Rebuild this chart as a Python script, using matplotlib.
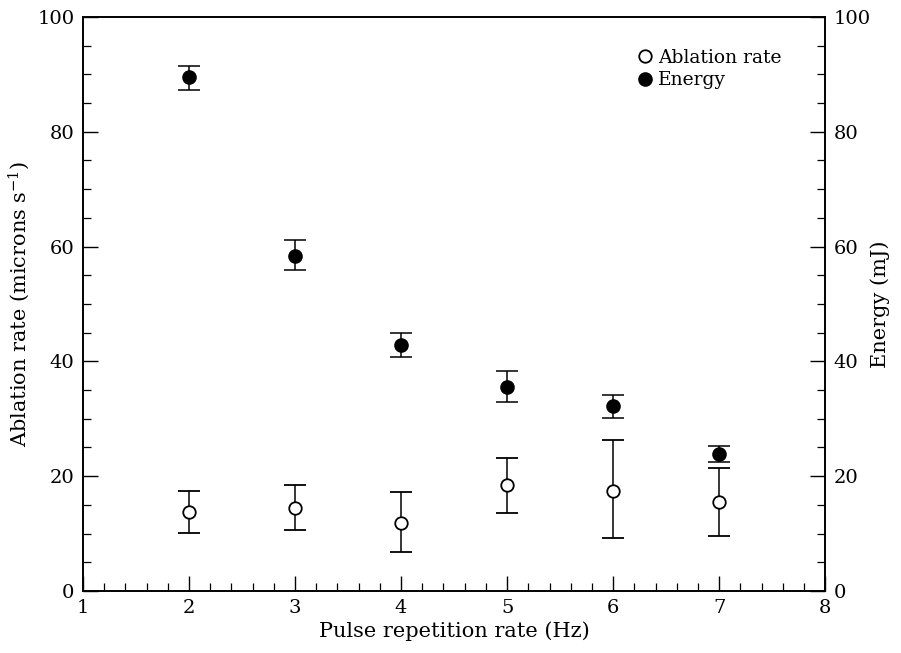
import matplotlib
matplotlib.use("Agg")
import matplotlib.pyplot as plt
from matplotlib.ticker import MultipleLocator
from matplotlib.lines import Line2D

plt.rcParams['font.family'] = ['DejaVu Serif']
plt.rcParams['mathtext.fontset'] = 'dejavuserif'

rate_hz = [2, 3, 4, 5, 6, 7]
ablation = [13.8, 14.4, 11.8, 18.4, 17.4, 15.5]
ablation_lo = [10.1, 10.7, 6.8, 13.5, 9.3, 9.6]
ablation_hi = [17.5, 18.4, 17.2, 23.1, 26.3, 21.4]
energy = [89.6, 58.3, 42.9, 35.5, 32.2, 23.9]
energy_lo = [87.2, 56.0, 40.7, 32.9, 30.1, 22.5]
energy_hi = [91.5, 61.1, 45.0, 38.3, 34.2, 25.3]

fig = plt.figure(figsize=(9.01, 6.53), dpi=100)
ax = fig.add_axes([0.092, 0.095, 0.824, 0.879])
ax2 = ax.twinx()

ab_err = [[a - l for a, l in zip(ablation, ablation_lo)],
          [h - a for a, h in zip(ablation, ablation_hi)]]
en_err = [[e - l for e, l in zip(energy, energy_lo)],
          [h - e for e, h in zip(energy, energy_hi)]]

ax.errorbar(rate_hz, ablation, yerr=ab_err, fmt='o', mfc='white', mec='black',
            mew=1.3, ms=9, ecolor='black', elinewidth=1.1, capsize=8, capthick=1.1,
            color='black', zorder=3)
ax2.errorbar(rate_hz, energy, yerr=en_err, fmt='o', mfc='black', mec='black',
             ms=9.5, ecolor='black', elinewidth=1.1, capsize=8, capthick=1.1,
             color='black', zorder=3)

for a in (ax, ax2):
    a.set_ylim(0, 100)
    a.yaxis.set_major_locator(MultipleLocator(20))
    a.yaxis.set_minor_locator(MultipleLocator(5))
    for s in a.spines.values():
        s.set_linewidth(1.2)
ax.set_xlim(1, 8)
ax.xaxis.set_major_locator(MultipleLocator(1))
ax.xaxis.set_minor_locator(MultipleLocator(0.2))

ax.tick_params(which='major', direction='in', length=11, width=1.0, labelsize=14, pad=6)
ax.tick_params(which='minor', direction='in', length=6, width=0.9)
ax.tick_params(axis='x', top=False, which='both')
ax2.tick_params(which='major', direction='in', length=11, width=1.0, labelsize=14, pad=6)
ax2.tick_params(which='minor', direction='in', length=6, width=0.9)

ax.set_xlabel('Pulse repetition rate (Hz)', fontsize=15, labelpad=3)
ax.set_ylabel('Ablation rate (microns s$^{-1}$)', fontsize=15, labelpad=4)
ax2.set_ylabel('Energy (mJ)', fontsize=15, labelpad=0)

handles = [Line2D([], [], ls='none', marker='o', mfc='white', mec='black', mew=1.3, ms=9),
           Line2D([], [], ls='none', marker='o', mfc='black', mec='black', ms=9.5)]
ax.legend(handles, ['Ablation rate', 'Energy'], loc='upper left',
          bbox_to_anchor=(0.742, 0.945), frameon=False, fontsize=13.5,
          handletextpad=0.1, labelspacing=0.25, handlelength=1.2, borderpad=0,
          borderaxespad=0)

fig.savefig('out.png', dpi=100)
